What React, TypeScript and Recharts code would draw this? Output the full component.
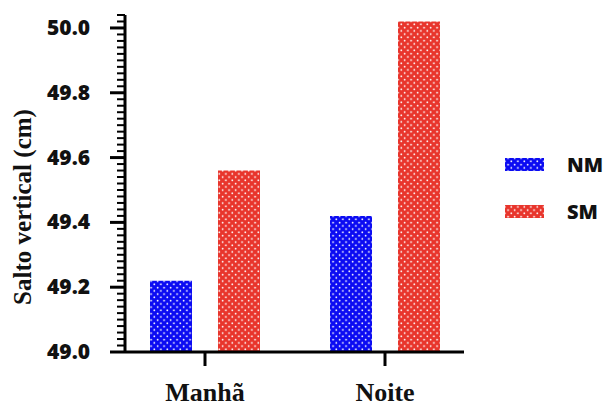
import { Bar, BarChart, Legend, XAxis, YAxis } from 'recharts';

const periods = ['Manhã', 'Noite'];
const nmValues = [49.22, 49.42];
const smValues = [49.56, 50.02];
const majorTicks = [49.0, 49.2, 49.4, 49.6, 49.8, 50.0];
const yMin = 49.0;
const yMax = 50.04;
const minorStep = 0.02;

const data = periods.map((p, i) => ({ period: p, NM: nmValues[i], SM: smValues[i] }));

const yTicks: number[] = [];
for (let k = 0; yMin + k * minorStep <= yMax + 1e-9; k++) {
  yTicks.push(Math.round((yMin + k * minorStep) * 100) / 100);
}

const isMajor = (v: number) => majorTicks.some((m) => Math.abs(m - v) < 1e-6);

const YTick = (props: any) => {
  const { x, y, payload } = props;
  const v = payload.value as number;
  if (isMajor(v)) {
    return (
      <g>
        <line x1={x - 15} x2={x} y1={y} y2={y} stroke="#000" strokeWidth={3} />
        <text
          x={x - 35}
          y={y}
          dy={7}
          textAnchor="end"
          fontFamily="'Open Sans', sans-serif"
          fontWeight={800}
          fontSize={21}
          fill="#111"
        >
          {v.toFixed(1)}
        </text>
      </g>
    );
  }
  return <line x1={x - 8} x2={x} y1={y} y2={y} stroke="#000" strokeWidth={2} />;
};

const XTick = (props: any) => {
  const { x, y, payload } = props;
  return (
    <text
      x={x}
      y={y}
      dy={31}
      textAnchor="middle"
      fontFamily="'Liberation Serif', 'Times New Roman', serif"
      fontWeight={700}
      fontSize={26}
      fill="#111"
    >
      {payload.value}
    </text>
  );
};

const LegendContent = (props: any) => {
  const { payload } = props;
  return (
    <svg width={106} height={100} style={{ display: 'block' }}>
      {payload.map((entry: any, i: number) => (
        <g key={entry.value}>
          <rect x={5} y={8 + i * 47} width={39} height={13} fill={`url(#dots-${entry.value})`} />
          <text
            x={67}
            y={22 + i * 47}
            fontFamily="'Open Sans', sans-serif"
            fontWeight={800}
            fontSize={20}
            fill="#111"
          >
            {entry.value}
          </text>
        </g>
      ))}
    </svg>
  );
};

export default function App() {
  return (
    <div style={{ position: 'absolute', left: 0, top: 0, background: '#fff' }}>
      <BarChart
        width={606}
        height={407}
        data={data}
        margin={{ top: 15, right: 142, bottom: 0, left: 0 }}
        barCategoryGap={35}
        barGap={26}
        barSize={42}
      >
        <defs>
          <pattern id="dots-NM" width={6.5} height={6.5} patternUnits="userSpaceOnUse">
            <rect width={6.5} height={6.5} fill="#0b0bf2" />
            <circle cx={1.6} cy={1.6} r={0.9} fill="#fff" />
            <circle cx={4.85} cy={4.85} r={0.9} fill="#fff" />
          </pattern>
          <pattern id="dots-SM" width={6.5} height={6.5} patternUnits="userSpaceOnUse">
            <rect width={6.5} height={6.5} fill="#e8352c" />
            <circle cx={1.6} cy={1.6} r={0.9} fill="#fff" />
            <circle cx={4.85} cy={4.85} r={0.9} fill="#fff" />
          </pattern>
        </defs>
        <XAxis
          dataKey="period"
          height={55}
          padding={{ left: -10, right: -11 }}
          axisLine={{ stroke: '#000', strokeWidth: 3 }}
          tickLine={{ stroke: '#000', strokeWidth: 3 }}
          tickSize={14}
          tickMargin={4}
          tick={<XTick />}
        />
        <YAxis
          type="number"
          domain={[yMin, yMax]}
          ticks={yTicks}
          interval={0}
          width={125}
          allowDataOverflow
          axisLine={{ stroke: '#000', strokeWidth: 3 }}
          tickLine={false}
          tickSize={0}
          tickMargin={0}
          tick={<YTick />}
          label={{
            value: 'Salto vertical (cm)',
            angle: -90,
            position: 'insideLeft',
            content: () => (
              <text
                x={31}
                y={207}
                transform="rotate(-90 31 207)"
                textAnchor="middle"
                fontFamily="'Liberation Serif', 'Times New Roman', serif"
                fontWeight={700}
                fontSize={25}
                fill="#111"
              >
                Salto vertical (cm)
              </text>
            ),
          }}
        />
        <Legend
          layout="vertical"
          align="center"
          verticalAlign="middle"
          wrapperStyle={{ left: 500, top: 150, width: 106 }}
          content={<LegendContent />}
        />
        <Bar dataKey="NM" fill="url(#dots-NM)" isAnimationActive={false} />
        <Bar dataKey="SM" fill="url(#dots-SM)" isAnimationActive={false} />
      </BarChart>
    </div>
  );
}
